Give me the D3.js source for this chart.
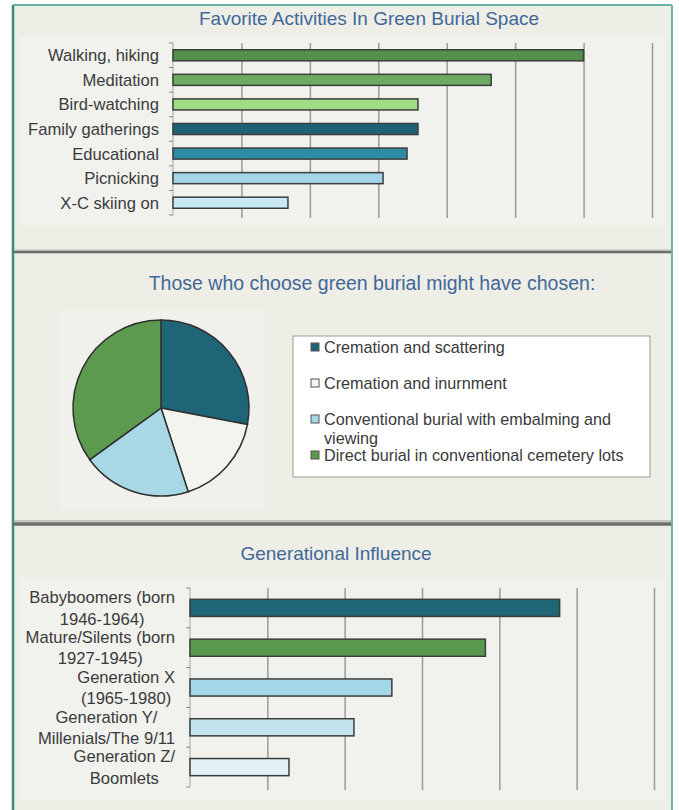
<!DOCTYPE html>
<html>
<head>
<meta charset="utf-8">
<script src="https://cdn.jsdelivr.net/npm/d3@7/dist/d3.min.js"></script>
<style>
  html, body { margin: 0; padding: 0; background: #fff; }
  svg { display: block; font-family: "Liberation Sans", Arial, sans-serif; }
</style>
</head>
<body>
<div id="chart"></div>
<script>
// chart 1: favorite activities
const activityNames = ['Walking, hiking', 'Meditation', 'Bird-watching', 'Family gatherings', 'Educational', 'Picnicking', 'X-C skiing on']
const activityValues = [60, 46.5, 35.8, 35.8, 34.2, 30.7, 16.8]
const activityColors = ['#548f4c', '#6dab62', '#9fdc86', '#1e6375', '#2d8ba3', '#a2d5e8', '#c9eaf2']
const activityTicks = [0, 10, 20, 30, 40, 50, 60, 70]

// chart 2: what they might have chosen
const choiceNames = ['Cremation and scattering', 'Cremation and inurnment', 'Conventional burial with embalming and\nviewing', 'Direct burial in conventional cemetery lots']
const choiceValues = [28, 17, 20, 35]
const choiceColors = ['#1e6578', '#f4f4ee', '#a8d8e6', '#5c9a4f']

// chart 3: generational influence
const generationNames = ['Babyboomers (born\n1946-1964)', 'Mature/Silents (born\n1927-1945)', 'Generation X\n(1965-1980)', 'Generation Y/\nMillenials/The 9/11', 'Generation Z/\nBoomlets']
const generationValues = [47.8, 38.2, 26.1, 21.2, 12.8]
const generationColors = ['#1f6777', '#5a9a4f', '#a3d7e8', '#c2e3ee', '#e3f2f7']
const generationTicks = [0, 10, 20, 30, 40, 50, 60]

const width = 679
const height = 810
const titleColor = '#3f6899'
const textColor = '#3a3a3a'

const svg = d3.select('#chart').append('svg')
  .attr('width', width)
  .attr('height', height)

// page frame
svg.append('rect')
  .attr('x', 13).attr('y', 5)
  .attr('width', 659).attr('height', height - 5)
  .attr('fill', '#eeeee7')
svg.append('line').attr('x1', 13).attr('x2', 672).attr('y1', 5).attr('y2', 5)
  .attr('stroke', '#6ab3ab').attr('stroke-width', 2)
svg.append('line').attr('x1', 672).attr('x2', 672).attr('y1', 5).attr('y2', height)
  .attr('stroke', '#6ab3ab').attr('stroke-width', 2)
svg.append('line').attr('x1', 13).attr('x2', 13).attr('y1', 5).attr('y2', height)
  .attr('stroke', '#3a8a82').attr('stroke-width', 2.5)

// separators between the three panels
svg.append('line').attr('x1', 14).attr('x2', 671).attr('y1', 252).attr('y2', 252)
  .attr('stroke', '#6a6a66').attr('stroke-width', 2.5)
svg.append('line').attr('x1', 14).attr('x2', 671).attr('y1', 250).attr('y2', 250)
  .attr('stroke', '#b5b5ae').attr('stroke-width', 1)
svg.append('line').attr('x1', 14).attr('x2', 671).attr('y1', 524).attr('y2', 524)
  .attr('stroke', '#6e6e6a').attr('stroke-width', 3.5)
svg.append('line').attr('x1', 14).attr('x2', 671).attr('y1', 521).attr('y2', 521)
  .attr('stroke', '#b8b8b0').attr('stroke-width', 1.5)

function title (text, x, y, size) {
  svg.append('text')
    .attr('x', x).attr('y', y)
    .attr('text-anchor', 'middle')
    .attr('dominant-baseline', 'central')
    .attr('font-size', size)
    .attr('fill', titleColor)
    .text(text)
}

// horizontal bar chart with excel-like look
function barChart (opt) {
  const { names, values, colors, ticks, left, right, top, bottom, bg } = opt
  const x = d3.scaleLinear()
    .domain([0, ticks[ticks.length - 1]])
    .range([left, right])
  const y = d3.scaleBand()
    .domain(names)
    .range([top, bottom])
    .paddingInner(opt.pad)
    .paddingOuter(opt.pad / 2)

  svg.append('rect')
    .attr('x', bg[0]).attr('y', bg[1])
    .attr('width', bg[2]).attr('height', bg[3])
    .attr('fill', '#f1f1ee')

  // gridlines
  const grid = svg.append('g')
    .attr('transform', 'translate(0,' + (bottom + 3) + ')')
    .call(d3.axisBottom(x).tickValues(ticks.slice(1)).tickSize(-(bottom - top + 3)).tickFormat(''))
  grid.select('.domain').remove()
  grid.selectAll('.tick line').attr('stroke', '#9a9a98').attr('stroke-width', 1.5)

  // y axis line with ticks at category boundaries
  svg.append('line')
    .attr('x1', left).attr('x2', left).attr('y1', top).attr('y2', bottom)
    .attr('stroke', '#a5a5a0').attr('stroke-width', 1)
  const edges = d3.range(names.length + 1).map(i => top + i * y.step())
  svg.append('g').selectAll('line')
    .data(edges)
    .enter()
    .append('line')
    .attr('x1', left - 4).attr('x2', left)
    .attr('y1', d => d).attr('y2', d => d)
    .attr('stroke', '#8a8a85').attr('stroke-width', 1)

  // bars
  svg.append('g').selectAll('rect')
    .data(values)
    .enter()
    .append('rect')
    .attr('x', x(0))
    .attr('y', (d, i) => y(names[i]))
    .attr('width', d => x(d) - x(0))
    .attr('height', y.bandwidth())
    .attr('fill', (d, i) => colors[i])
    .attr('stroke', '#3d3d3d')
    .attr('stroke-width', 1.5)

  // category labels, wrapped lines centered inside a right-aligned block
  const labels = svg.append('g')
    .attr('font-size', opt.fontSize)
    .attr('fill', textColor)
  names.forEach(name => {
    const lines = name.split('\n')
    const cy = y(name) + y.bandwidth() / 2
    const g = labels.append('text')
      .attr('text-anchor', 'middle')
      .attr('dominant-baseline', 'central')
    lines.forEach((ln, k) => {
      g.append('tspan')
        .attr('y', cy + (k - (lines.length - 1) / 2) * opt.lineHeight)
        .text(ln)
    })
    const widths = []
    g.selectAll('tspan').each(function () { widths.push(this.getComputedTextLength()) })
    const maxW = d3.max(widths)
    g.selectAll('tspan').attr('x', left - opt.labelGap - maxW / 2)
  })
}

// ---- panel 1
title('Favorite Activities In Green Burial Space', 369, 18, 19)
barChart({
  names: activityNames,
  values: activityValues,
  colors: activityColors,
  ticks: activityTicks,
  left: 173, right: 652, top: 43, bottom: 215,
  pad: 0.55,
  bg: [20, 36, 646, 190],
  fontSize: 16.6,
  lineHeight: 18,
  labelGap: 14
})

// ---- panel 2: pie + legend
title('Those who choose green burial might have chosen:', 372, 283, 19.5)

svg.append('rect')
  .attr('x', 60).attr('y', 310)
  .attr('width', 205).attr('height', 200)
  .attr('fill', '#f0f0ec')

const pie = d3.pie().sort(null)(choiceValues)
const arc = d3.arc().innerRadius(0).outerRadius(88)
svg.append('g')
  .attr('transform', 'translate(161,408)')
  .selectAll('path')
  .data(pie)
  .enter()
  .append('path')
  .attr('d', arc)
  .attr('fill', (d, i) => choiceColors[i])
  .attr('stroke', '#2f2f2f')
  .attr('stroke-width', 1.5)

const legend = svg.append('g').attr('transform', 'translate(293,336)')
legend.append('rect')
  .attr('width', 357).attr('height', 141)
  .attr('fill', '#ffffff')
  .attr('stroke', '#9a9a96')
  .attr('stroke-width', 1)
choiceNames.forEach((name, i) => {
  const cy = 11 + i * 36
  legend.append('rect')
    .attr('x', 18).attr('y', cy - 4)
    .attr('width', 8).attr('height', 8)
    .attr('fill', choiceColors[i])
    .attr('stroke', '#555')
    .attr('stroke-width', 1)
  const t = legend.append('text')
    .attr('font-size', 16.2)
    .attr('fill', textColor)
    .attr('dominant-baseline', 'central')
  name.split('\n').forEach((ln, k) => {
    t.append('tspan').attr('x', 31).attr('y', cy + k * 18.5).text(ln)
  })
})

// ---- panel 3
title('Generational Influence', 336, 553, 19)
barChart({
  names: generationNames,
  values: generationValues,
  colors: generationColors,
  ticks: generationTicks,
  left: 190, right: 654, top: 588, bottom: 787,
  pad: 0.57,
  bg: [20, 578, 646, 222],
  fontSize: 16.6,
  lineHeight: 21.5,
  labelGap: 15
})
</script>
</body>
</html>
